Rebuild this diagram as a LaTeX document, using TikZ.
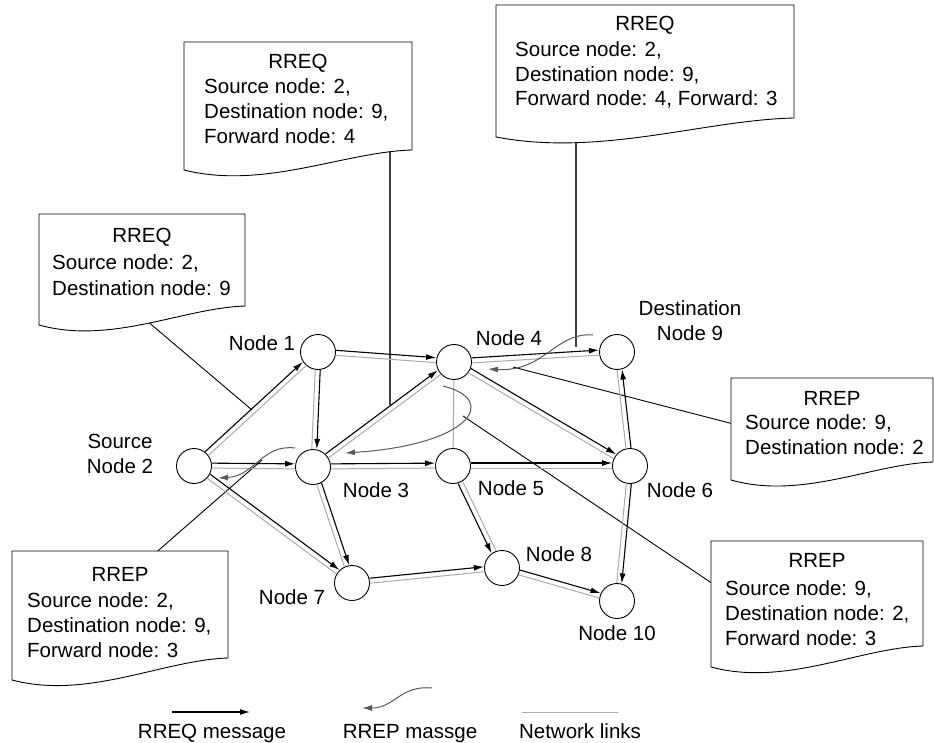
\documentclass[tikz,border=0pt]{standalone}
\usepackage{fontspec}
\setmainfont{Liberation Sans}
\usetikzlibrary{arrows.meta,calc}
\newcommand\netedge[4]{%
  \draw[link,transform canvas={shift={({-0.4*(#3)},{-0.4*(#4)})}}] (#1) -- (#2);
  \draw[req,transform canvas={shift={({0.6*(#3)},{0.6*(#4)})}}] (#1) -- (#2);}
% #1 L, #2 R, #3 top, #4 bottom-left y, #5 bottom-right y
\newcommand\docbox[5]{%
  \draw[doc] (#1,#3) -- (#2,#3) -- (#2,#5)
    .. controls ({#2-0.3*(#2-#1)},{#5+2}) and ({#1+0.35*(#2-#1)},{#4+20}) .. (#1,#4) -- cycle;}
\begin{document}
\begin{tikzpicture}[x=1pt,y=-1pt,
  font=\fontsize{20.5}{25}\selectfont,
  nd/.style={circle,draw,line width=0.9pt,minimum size=35pt,inner sep=0pt,fill=white},
  txt/.style={inner sep=0pt,anchor=base west},
  ctr/.style={inner sep=0pt,anchor=base},
  link/.style={draw=black!33,line width=1pt},
  req/.style={draw=black,line width=1.1pt,-{Latex[length=10pt,width=6pt]}},
  rep/.style={draw=black!65,line width=1pt,-{Latex[length=10pt,width=6pt]}},
  lead/.style={draw=black,line width=0.9pt},
  vlead/.style={draw=black!75,line width=1.2pt},
  doc/.style={draw=black,line width=0.9pt,fill=white}]
\useasboundingbox (0,0) rectangle (934,743);

% leader lines (drawn first, hidden inside boxes)
\coordinate (la1) at (390,140); \coordinate (la2) at (390,405);
\coordinate (lb1) at (576,118); \coordinate (lb2) at (576,347);
\coordinate (lc1) at (120,298); \coordinate (lc2) at (252,410);
\coordinate (ld1) at (513,367); \coordinate (ld2) at (745,427);
\coordinate (le1) at (463,416); \coordinate (le2) at (725,592);
\coordinate (lf1) at (262,460); \coordinate (lf2) at (144,563);
\draw[vlead] (la1) -- (la2);
\draw[vlead] (lb1) -- (lb2);
\draw[lead] (lc1) -- (lc2);
\draw[lead] (ld1) -- (ld2);
\draw[lead] (le1) -- (le2);
\draw[lead] (lf1) -- (lf2);

% boxes
\docbox{184}{412}{42}{170}{150}
\docbox{496}{794}{5}{137}{118}
\docbox{39}{245}{214}{325}{306}
\docbox{731}{933}{378}{480}{462}
\docbox{711}{923}{541}{667}{646}
\docbox{12}{228}{551}{680}{658}

% box texts
\node[ctr] (ta) at (298,69) {RREQ};
\node[txt] (ta1) at (204,94) {Source node: 2,};
\node[txt] (ta2) at (204,119) {Destination node: 9,};
\node[txt] (ta3) at (204,144) {Forward node: 4};

\node[ctr] (tb) at (645,31) {RREQ};
\node[txt] (tb1) at (515,57) {Source node: 2,};
\node[txt] (tb2) at (515,82) {Destination node: 9,};
\node[txt] (tb3) at (515,106) {Forward node: 4, Forward: 3};

\node[ctr] (tc) at (142,243) {RREQ};
\node[txt] (tc1) at (52,270) {Source node: 2,};
\node[txt] (tc2) at (52,295) {Destination node: 9};

\node[ctr] (td) at (832,405) {RREP};
\node[txt] (td1) at (745,429) {Source node: 9,};
\node[txt] (td2) at (745,454) {Destination node: 2};

\node[ctr] (te) at (817,567) {RREP};
\node[txt] (te1) at (725,595) {Source node: 9,};
\node[txt] (te2) at (725,620) {Destination node: 2,};
\node[txt] (te3) at (725,645) {Forward node: 3};

\node[ctr] (tf) at (120,581) {RREP};
\node[txt] (tf1) at (27,607) {Source node: 2,};
\node[txt] (tf2) at (27,632) {Destination node: 9,};
\node[txt] (tf3) at (27,657) {Forward node: 3};

% network nodes
\node[nd] (n1) at (318,352) {};
\node[nd] (n2) at (194,466) {};
\node[nd] (n3) at (313,467) {};
\node[nd] (n4) at (454,362) {};
\node[nd] (n5) at (453,466) {};
\node[nd] (n6) at (630,466) {};
\node[nd] (n7) at (352,583) {};
\node[nd] (n8) at (502,568) {};
\node[nd] (n9) at (617,352) {};
\node[nd] (n10) at (617,601) {};

% node labels
\node[ctr] (l1) at (262,350) {Node 1};
\node[ctr] (l2a) at (120,448) {Source};
\node[ctr] (l2b) at (120,473) {Node 2};
\node[ctr] (l3) at (376,497) {Node 3};
\node[ctr] (l4) at (509,345) {Node 4};
\node[ctr] (l5) at (511,495) {Node 5};
\node[ctr] (l6) at (680,497) {Node 6};
\node[ctr] (l7) at (292,604) {Node 7};
\node[ctr] (l8) at (559,561) {Node 8};
\node[ctr] (l9a) at (690,315) {Destination};
\node[ctr] (l9b) at (690,340) {Node 9};
\node[ctr] (l10) at (617,640) {Node 10};

% links and RREQ arrows
\netedge{n2}{n1}{-3.5}{-3.5}
\netedge{n1}{n4}{0}{-5}
\netedge{n1}{n3}{5}{0}
\netedge{n2}{n3}{0}{-5}
\netedge{n2}{n7}{3}{-4}
\netedge{n3}{n4}{-3}{-4}
\netedge{n3}{n5}{0}{-5}
\netedge{n3}{n7}{4.7}{-1.6}
\netedge{n4}{n9}{-0.3}{-5}
\netedge{n4}{n6}{2.5}{-4.3}
\netedge{n5}{n6}{0}{-5}
\netedge{n5}{n8}{-4.5}{2.2}
\netedge{n6}{n9}{5}{-0.6}
\netedge{n6}{n10}{5}{0.5}
\netedge{n7}{n8}{-0.5}{-5}
\netedge{n8}{n10}{1.4}{-4.8}
\draw[link] (n4) -- (n5);

% RREP curves
\coordinate (r1s) at (295,448); \coordinate (r1e) at (218,478);
\draw[rep] (r1s) .. controls (262,444) and (255,476) .. (r1e);
\coordinate (r2s) at (443,386); \coordinate (r2e) at (345,453);
\draw[rep] (r2s) .. controls (500,400) and (470,445) .. (r2e);
\coordinate (r3s) at (593,335); \coordinate (r3e) at (488,369);
\draw[rep] (r3s) .. controls (555,332) and (545,372) .. (r3e);

% legend
\coordinate (g1a) at (172,712); \coordinate (g1b) at (250,712);
\draw[req] (g1a) -- (g1b);
\node[ctr] (g1t) at (212,738) {RREQ message};
\coordinate (g2a) at (432,688); \coordinate (g2b) at (362,708);
\draw[rep] (g2a) .. controls (400,685) and (395,708) .. (g2b);
\node[ctr] (g2t) at (410,738) {RREP massge};
\coordinate (g3a) at (522,712); \coordinate (g3b) at (618,712);
\draw[link] (g3a) -- (g3b);
\node[ctr] (g3t) at (580,738) {Network links};
\end{tikzpicture}
\end{document}
